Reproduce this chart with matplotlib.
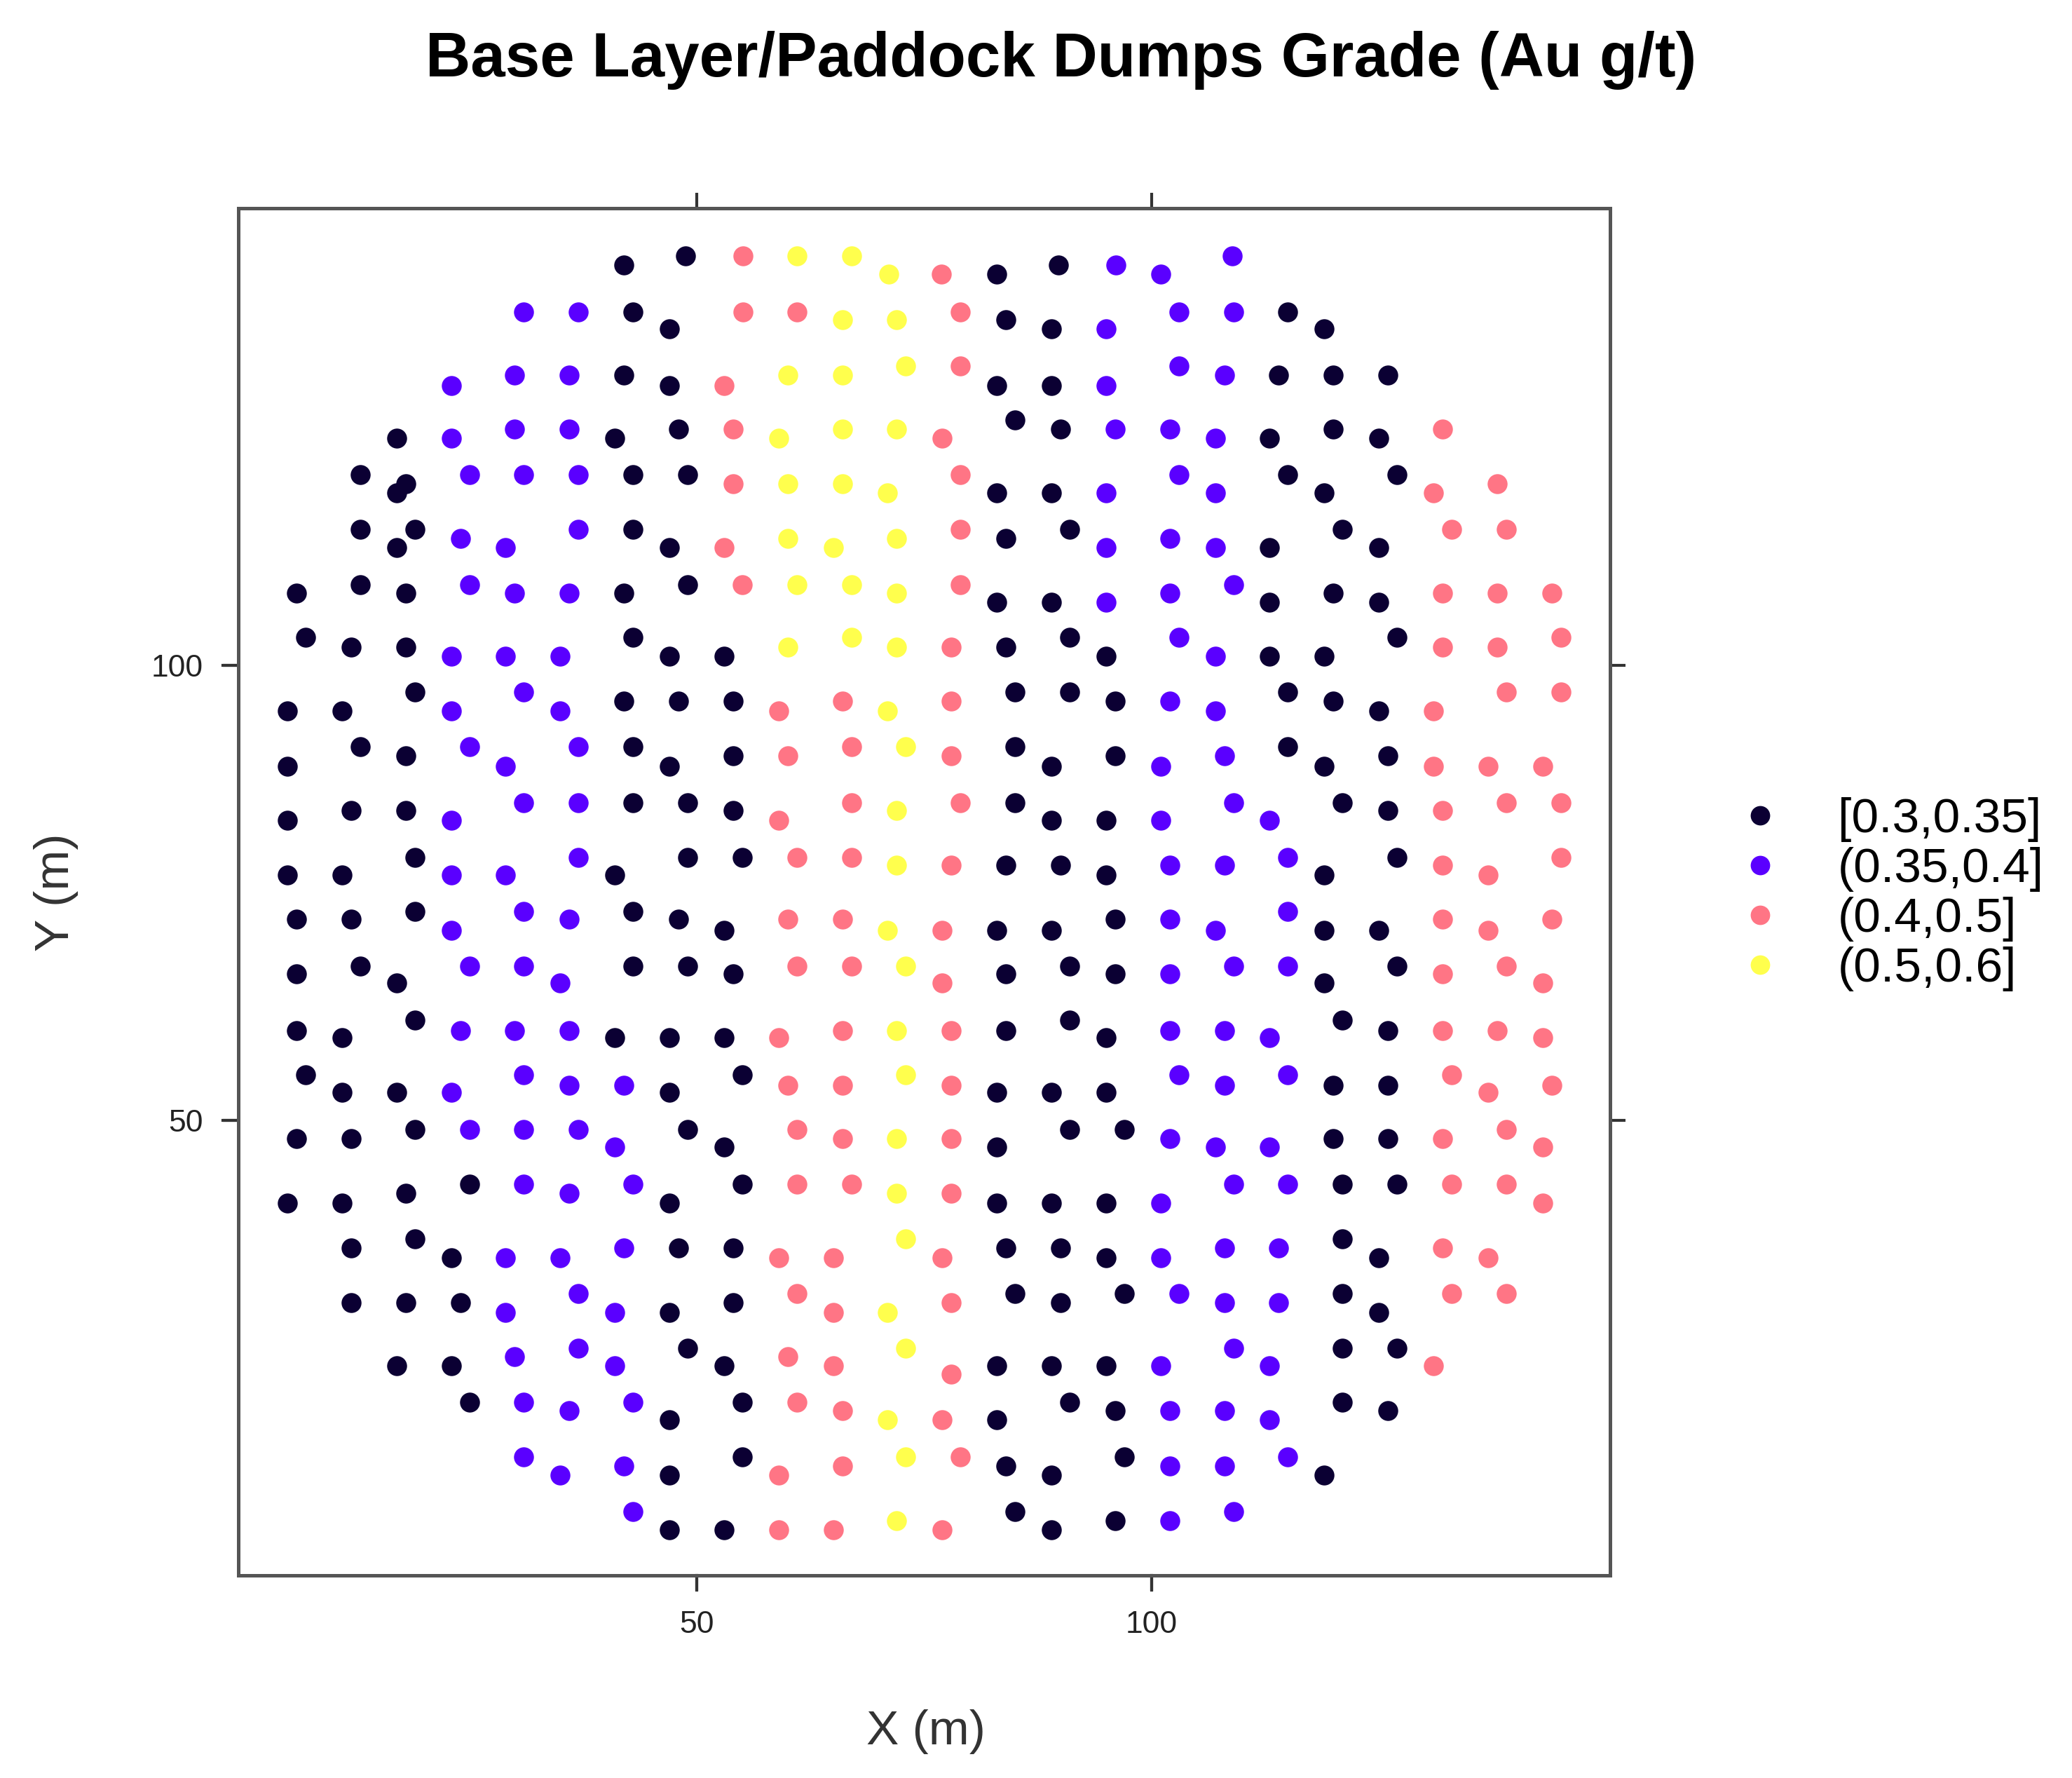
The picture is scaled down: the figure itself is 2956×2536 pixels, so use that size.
import matplotlib
matplotlib.use("Agg")
import matplotlib.pyplot as plt
from matplotlib.lines import Line2D
import matplotlib.transforms as mtrans

plt.rcParams['font.family'] = ['Liberation Sans', 'DejaVu Sans']

row_x = [
 [42.0,48.8,55.1,61.0,67.0,71.1,76.9,83.0,89.8,96.1,101.0,108.9],
 [31,37,43,47,55.1,61,66,72,79,84,89,95,103,109,115,119],
 [23,30,36,42,47,53,60,66,73,79,83,89,95,103,108,114,120,126],
 [17,23,30,36,41,48,54,59,66,72,77,85,90,96,102,107,113,120,125,132],
 [13,17,18,25,31,37,43,49,54,60,66,71,79,83,89,95,103,107,115,119,127,131,138],
 [13,17,19,24,29,37,43,47,53,60,65,72,79,84,91,95,102,107,113,121,125,133,139],
 [6,13,18,25,30,36,42,49,55,61,67,72,79,83,89,95,102,109,113,120,125,132,138,144],
 [7,12,18,23,29,35,43,47,53,60,67,72,78,84,91,95,103,107,113,119,127,132,138,145],
 [5,11,19,23,31,35,42,48,54,59,66,71,78,85,91,96,102,107,115,120,125,131,139,145],
 [5,13,18,25,29,37,43,47,54,60,67,73,78,85,89,96,101,108,115,119,126,131,137,143],
 [5,12,18,23,31,37,43,49,54,59,67,72,79,85,89,95,101,109,113,121,126,132,139,145],
 [5,11,19,23,29,37,41,49,55,61,67,72,78,84,90,95,102,108,115,119,127,132,137,145],
 [6,12,19,23,31,36,43,48,53,60,66,71,77,83,89,96,102,107,115,119,125,132,137,144],
 [6,13,17,25,31,35,43,49,54,61,67,73,77,84,91,96,102,109,115,119,127,132,139,143],
 [6,11,19,24,30,36,41,47,53,59,66,72,78,84,91,95,102,108,113,121,126,132,138,143],
 [7,11,17,23,31,36,42,47,55,60,66,73,78,83,89,95,103,108,115,120,126,133,137,144],
 [6,12,19,25,31,37,41,49,53,61,66,72,78,83,91,97,102,107,113,120,126,132,139,143],
 [5,11,18,25,31,36,43,47,55,61,67,72,78,83,89,95,101,109,115,121,127,133,139,143],
 [12,19,23,29,35,42,48,54,59,65,73,77,84,90,95,101,108,114,121,125,132,137],
 [12,18,24,29,37,41,47,54,61,65,71,78,85,90,97,103,108,114,121,125,133,139],
 [17,23,30,37,41,49,53,60,65,73,78,83,89,95,101,109,113,121,127,131],
 [25,31,36,43,47,55,61,66,71,77,83,91,96,102,108,113,121,126],
 [31,35,42,47,55,59,66,73,79,84,89,97,102,108,115,119],
 [43,47,53,59,65,72,77,85,89,96,102,109],
]
row_y = [
 [144,145,145,145,145,143,143,143,144,144,143,145],
 [138.9,138.9,138.9,137,138.9,138.9,138,138,138.9,138,137,137,138.9,138.9,138.9,137],
 [130.8,131.9,131.9,131.9,130.8,130.8,131.9,131.9,132.9,132.9,130.8,130.8,130.8,132.9,131.9,131.9,131.9,131.9],
 [125,125,126,126,125,126,126,125,126,126,125,127,126,126,126,125,125,126,125,126],
 [121,119,120,121,121,121,121,121,120,120,120,119,121,119,119,119,121,119,121,119,121,119,120],
 [115,113,115,114,113,115,115,113,113,114,113,114,115,114,115,113,114,113,113,115,113,115,115],
 [108,108.9,108,108.9,108,108,108,108.9,108.9,108.9,108.9,108,108.9,107,107,107,108,108.9,107,108,107,108,108,108],
 [103.1,102,102,101,101,101,103.1,101,101,102,103.1,102,102,102,103.1,101,103.1,101,101,101,103.1,102,102,103.1],
 [95,95,97.1,95,97.1,95,96.1,96.1,96.1,95,96.1,95,96.1,97.1,97.1,96.1,96.1,95,97.1,96.1,95,95,97.1,97.1],
 [88.9,91.1,90.1,91.1,88.9,91.1,91.1,88.9,90.1,90.1,91.1,91.1,90.1,91.1,88.9,90.1,88.9,90.1,91.1,88.9,90.1,88.9,88.9,88.9],
 [83,84.1,84.1,83,84.9,84.9,84.9,84.9,84.1,83,84.9,84.1,84.9,84.9,83,83,83,84.9,83,84.9,84.1,84.1,84.9,84.9],
 [77,77,78.9,77,77,78.9,77,78.9,78.9,78.9,78.9,78.1,78.1,78.1,78.1,77,78.1,78.1,78.9,77,78.9,78.1,77,78.9],
 [72.1,72.1,73,70.9,73,72.1,73,72.1,70.9,72.1,72.1,70.9,70.9,70.9,70.9,72.1,72.1,70.9,73,70.9,70.9,72.1,70.9,72.1],
 [66.1,67,65.1,67,67,65.1,67,67,66.1,67,67,67,65.1,66.1,67,66.1,66.1,67,67,65.1,67,66.1,67,65.1],
 [59.9,59.1,61,59.9,59.9,59.9,59.1,59.1,59.1,59.1,59.9,59.9,59.9,59.9,61,59.1,59.9,59.9,59.1,61,59.9,59.9,59.9,59.1],
 [55,53.1,53.1,53.1,55,53.9,53.9,53.1,55,53.9,53.9,55,53.9,53.1,53.1,53.1,55,53.9,55,53.9,53.9,55,53.1,53.9],
 [48,48,49,49,49,49,47.1,49,47.1,49,48,48,48,47.1,49,49,48,47.1,47.1,48,48,48,49,47.1],
 [40.9,40.9,42,43,43,42,43,40.9,43,43,43,42,42,40.9,40.9,40.9,40.9,43,43,43,43,43,43,40.9],
 [36,37,34.9,34.9,34.9,36,36,36,34.9,34.9,37,34.9,36,36,34.9,34.9,36,36,37,34.9,36,34.9],
 [30,30,30,28.9,31,28.9,28.9,30,31,28.9,28.9,30,31,30,31,31,30,30,31,28.9,31,31],
 [23,23,24,25,23,25,23,24,23,25,22.1,23,23,23,23,25,23,25,25,23],
 [19,19,18.1,19,17.1,19,19,18.1,17.1,17.1,17.1,19,18.1,18.1,18.1,17.1,19,18.1],
 [13,11,12,11,13,11,12,13,13,12,11,13,12,12,13,11],
 [7,5,5,5,5,6,5,7,5,6,6,7],
]
row_grade = [
 "DDRYYYRDDPPP", "PPDDRRYYRDDPPPDD", "PPPDDRYYYRDDPPPDDD", "DPPPDDRYYYRDDPPPDDDR",
 "DDDPPPDDRYYYRDDPPPDDDRR", "DDDPPPDDRYYYRDDPPPDDDRR", "DDDPPPDDRYYYRDDPPPDDDRRR",
 "DDDPPPDDDYYYRDDDPPDDDRRR", "DDDPPPDDDRRYRDDDPPDDDRRR", "DDDPPPDDDRRYRDDDPPDDDRRR",
 "DDDPPPDDDRRYRDDDPPPDDRRR", "DDDPPPDDDRRYRDDDPPPDDRRR", "DDDPPPDDDRRYRDDDPPPDDRRR",
 "DDDPPPDDDRRYRDDDPPPDDRRR", "DDDPPPDDDRRYRDDDPPPDDRRR", "DDDPPPPDDRRYRDDDPPPDDRRR",
 "DDDPPPPDDRRYRDDDPPPDDRRR", "DDDDPPPDDRRYRDDDPPPDDRRR", "DDDPPPDDRRYRDDDPPPDDRR",
 "DDDPPPDDRRYRDDDPPPDDRR", "DDPPPDDRRYRDDDPPPDDR", "DPPPDDRRYRDDDPPPDD",
 "PPPDDRRYRDDDPPPD", "PDDRRYRDDDPP",
]
class_codes = ["D", "P", "R", "Y"]
class_labels = ["[0.3,0.35]", "(0.35,0.4]", "(0.4,0.5]", "(0.5,0.6]"]
class_colors = ["#0b0033", "#5a00ff", "#ff7585", "#ffff4d"]
tick_vals = [50, 100]

xs, ys, gs = [], [], []
for rx, ry, rg in zip(row_x, row_y, row_grade):
    for a, b, c in zip(rx, ry, rg):
        xs.append(a); ys.append(b); gs.append(c)

fig = plt.figure(figsize=(14.78, 12.68), dpi=200)
ax = fig.add_axes([0.115, 0.114, 0.662, 0.769])
for code, col in zip(class_codes, class_colors):
    px = [x for x, g in zip(xs, gs) if g == code]
    py = [y for y, g in zip(ys, gs) if g == code]
    ax.scatter(px, py, s=105, c=col, marker='o', linewidths=0, zorder=3)

ax.set_xlim(-0.4, 150.4)
ax.set_ylim(0, 150.3)
ax.set_xticks(tick_vals); ax.set_yticks(tick_vals)
ax.xaxis.set_ticks_position('both')
ax.yaxis.set_ticks_position('both')
ax.tick_params(which='major', direction='out', length=8, width=1.5, color='#333333',
               labelsize=16, labelcolor='#222222', pad=10,
               labelbottom=True, labelleft=True, labeltop=False, labelright=False)
tx = mtrans.blended_transform_factory(ax.transData, ax.transAxes)
ty = mtrans.blended_transform_factory(ax.transAxes, ax.transData)
for v in tick_vals:
    ax.plot([v, v], [0, -0.011], transform=tx, color='#333333', lw=1.5, clip_on=False)
    ax.plot([0, -0.011], [v, v], transform=ty, color='#333333', lw=1.5, clip_on=False)
for s in ax.spines.values():
    s.set_color('#555555'); s.set_linewidth(1.8)
fig.text(0.447, 0.026, "X (m)", ha='center', va='center', fontsize=25, color='#333333')
fig.text(0.027, 0.498, "Y (m)", ha='center', va='center', rotation=90, fontsize=25, color='#333333')
fig.text(0.512, 0.966, "Base Layer/Paddock Dumps Grade (Au g/t)", ha='center',
         va='center', fontsize=32, fontweight='bold')

handles = [Line2D([], [], marker='o', linestyle='', markersize=10,
                  markerfacecolor=c, markeredgewidth=0) for c in class_colors]
fig.legend(handles, class_labels, loc='center left', bbox_to_anchor=(0.840, 0.497),
           frameon=False, fontsize=25, handlelength=0.8, handletextpad=1.2,
           labelspacing=0.1, borderpad=0, borderaxespad=0)
fig.savefig("out.png", dpi=200)
